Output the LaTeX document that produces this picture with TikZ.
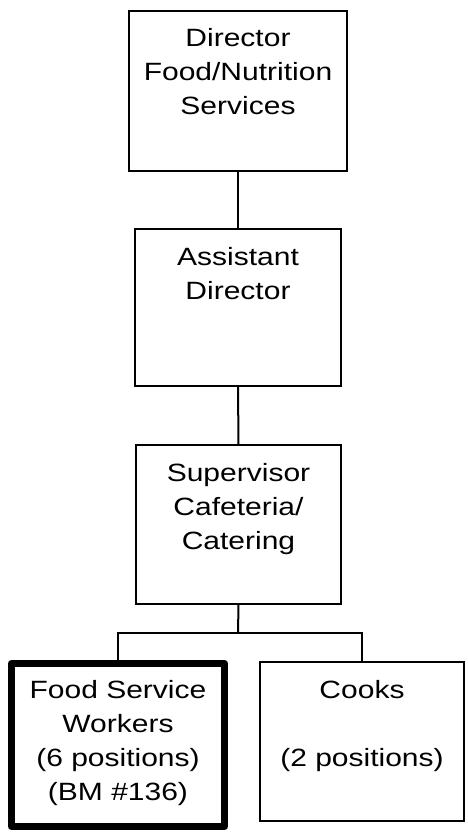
\documentclass[tikz,border=0pt]{standalone}
\usepackage{fontspec}
\usepackage{graphicx}
\setmainfont{Liberation Sans}
\newcommand{\wlines}[1]{\scalebox{1.2}[1]{\begin{tabular}{@{}c@{}}#1\end{tabular}}}
\begin{document}
\begin{tikzpicture}[x=1pt,y=1pt,
  box/.style={draw=black, line width=2pt, rectangle, inner sep=0pt, anchor=center},
  thickbox/.style={box, line width=7pt, line join=round},
  lbl/.style={anchor=north, inner sep=0pt, font={\fontsize{25}{34}\selectfont}},
  conn/.style={draw=black, line width=2pt}]
\useasboundingbox (0,0) rectangle (467,-836);
\fill[white] (0,0) rectangle (467,-836);
% boxes
\node[box, minimum width=218pt, minimum height=160pt] (b1) at (238,-91) {};
\node[box, minimum width=206pt, minimum height=157pt] (b2) at (238,-307.5) {};
\node[box, minimum width=205pt, minimum height=159pt] (b3) at (238.5,-524.5) {};
\node[thickbox, minimum width=213pt, minimum height=163pt] (b4) at (118,-745) {};
\node[box, minimum width=204pt, minimum height=159pt] (b5) at (362,-741.5) {};
% labels
\node[lbl] (t1) at (238,-22.9) {\wlines{Director\\Food/Nutrition\\Services}};
\node[lbl] (t2) at (238,-241.2) {\wlines{Assistant\\Director}};
\node[lbl] (t3) at (238.5,-457.9) {\wlines{Supervisor\\Cafeteria/\\Catering}};
\node[lbl] (t4) at (118,-674.2) {\wlines{Food Service\\Workers\\(6 positions)\\(BM \#136)}};
\node[lbl] (t5) at (362,-674.2) {\wlines{Cooks\\ \\(2 positions)}};
% connectors
\coordinate (j) at (238,-633);
\draw[conn] (b1.south) -- (b2.north);
\draw[conn] (b2.south) -- (b3.north);
\draw[conn] (b3.south) -- (j);
\draw[conn] (b4.north) |- (j) -| (b5.north);
\end{tikzpicture}
\end{document}
